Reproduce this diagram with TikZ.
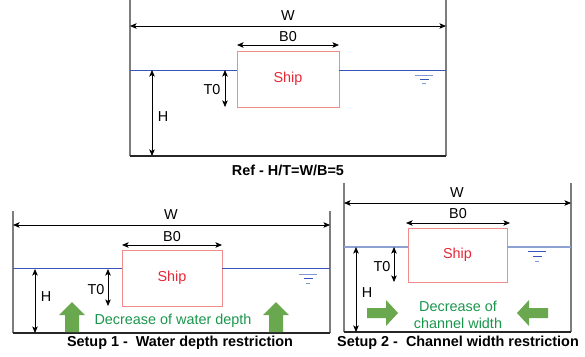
\documentclass[tikz,border=0pt]{standalone}
\usepackage{fontspec}
\setmainfont{Liberation Sans}
\usetikzlibrary{arrows.meta}
\definecolor{wallgray}{RGB}{125,125,125}
\definecolor{waterblue}{RGB}{55,85,185}
\definecolor{waterpale}{RGB}{140,160,210}
\definecolor{waterlight}{RGB}{130,150,210}
\definecolor{shipred}{RGB}{240,140,140}
\definecolor{shiptext}{RGB}{230,40,55}
\definecolor{arrowgreen}{RGB}{106,168,79}
\definecolor{textgreen}{RGB}{25,150,75}
\begin{document}
\begin{tikzpicture}[x=1pt,y=-1pt,
  wall/.style={draw=wallgray, line width=1.3pt},
  floor/.style={draw=black!85, line width=1.1pt},
  water/.style={draw=waterblue, line width=1pt},
  dim/.style={{Stealth[length=6.5pt,width=5.5pt,inset=1.5pt]}-{Stealth[length=6.5pt,width=5.5pt,inset=1.5pt]}, line width=0.7pt},
  shipbox/.style={draw=shipred, line width=0.8pt, inner sep=0pt, text=shiptext, font=\fontsize{14.4}{16}\selectfont},
  lbl/.style={font=\fontsize{14.4}{16}\selectfont, inner sep=0pt},
  captext/.style={font=\bfseries\fontsize{14.4}{16}\selectfont, inner sep=0pt},
  greentxt/.style={text=textgreen, font=\fontsize{14.4}{17}\selectfont, inner sep=0pt, align=center},
  blockarrow/.style={fill=arrowgreen, draw=none}
]
\useasboundingbox (0,0) rectangle (585,356);

% ================= Reference =================
\coordinate (rTL) at (130,0);
\coordinate (rBL) at (130,156);
\coordinate (rTR) at (446,0);
\coordinate (rBR) at (446,156);
\draw[wall] (rTL) -- (rBL);
\draw[wall] (rTR) -- (rBR);
\draw[floor] (rBL) -- (rBR);
\node[shipbox, minimum width=102, minimum height=56] (rship) at (288,79) {Ship};
\coordinate (rWL) at (130,26);
\coordinate (rWR) at (446,26);
\draw[dim] (rWL) -- (rWR);
\node[lbl] (rW) at (288,16) {W};
\coordinate (rBa) at (237,45);
\coordinate (rBb) at (339,45);
\draw[dim] (rBa) -- (rBb);
\node[lbl] (rB) at (288,37) {B0};
\coordinate (rwl) at (130,70);
\coordinate (rwr) at (446,70);
\draw[water] (rwl) -- (rship.west |- rwl);
\draw[water] (rship.east |- rwr) -- (rwr);
\coordinate (rHa) at (152,70);
\coordinate (rHb) at (152,156);
\draw[dim] (rHa) -- (rHb);
\node[lbl] (rH) at (163,117) {H};
\coordinate (rTa) at (225,70);
\coordinate (rTb) at (225,107);
\draw[dim] (rTa) -- (rTb);
\node[lbl] (rT) at (212,90) {T0};
\draw[waterlight, line width=1pt] (415,75) -- (433,75);
\draw[waterblue, line width=1pt] (420,79) -- (429,79);
\draw[waterlight, line width=1pt] (422,83) -- (426,83);
\node[captext] (rcap) at (288,170) {Ref - H/T=W/B=5};

% ================= Setup 1 =================
\coordinate (aTL) at (13,211);
\coordinate (aBL) at (13,333);
\coordinate (aTR) at (330,211);
\coordinate (aBR) at (330,333);
\draw[wall] (aTL) -- (aBL);
\draw[wall] (aTR) -- (aBR);
\draw[floor] (aBL) -- (aBR);
\node[shipbox, minimum width=100, minimum height=56] (aship) at (172,278) {Ship};
\coordinate (aWL) at (13,225);
\coordinate (aWR) at (330,225);
\draw[dim] (aWL) -- (aWR);
\node[lbl] (aW) at (171,215) {W};
\coordinate (aBa) at (122,245);
\coordinate (aBb) at (222,245);
\draw[dim] (aBa) -- (aBb);
\node[lbl] (aB) at (172,237) {B0};
\coordinate (awl) at (13,268.5);
\coordinate (awr) at (330,268.5);
\draw[water] (awl) -- (aship.west |- awl);
\draw[water] (aship.east |- awr) -- (awr);
\coordinate (aHa) at (35,269);
\coordinate (aHb) at (35,333);
\draw[dim] (aHa) -- (aHb);
\node[lbl] (aH) at (46,297) {H};
\coordinate (aTa) at (108,269);
\coordinate (aTb) at (108,306);
\draw[dim] (aTa) -- (aTb);
\node[lbl] (aT) at (96,290) {T0};
\draw[waterlight, line width=1pt] (299,274) -- (317,274);
\draw[waterblue, line width=1pt] (304,278) -- (313,278);
\draw[waterlight, line width=1pt] (306,283) -- (310,283);
\fill[blockarrow] (65,332) -- (65,315) -- (59,315) -- (72,302) -- (85,315) -- (79,315) -- (79,332) -- cycle;
\fill[blockarrow] (269,332) -- (269,315) -- (263,315) -- (276,302) -- (289,315) -- (283,315) -- (283,332) -- cycle;
\node[greentxt] (atxt) at (173,321) {Decrease of water depth};
\node[captext] (acap) at (180,343) {Setup 1 -\ \ Water depth restriction};

% ================= Setup 2 =================
\coordinate (bTL) at (344,183);
\coordinate (bBL) at (344,332);
\coordinate (bTR) at (571,183);
\coordinate (bBR) at (571,332);
\draw[wall] (bTL) -- (bBL);
\draw[wall] (bTR) -- (bBR);
\draw[floor] (bBL) -- (bBR);
\node[shipbox, minimum width=99, minimum height=54] (bship) at (457.5,255) {Ship};
\coordinate (bWL) at (344,203);
\coordinate (bWR) at (571,203);
\draw[dim] (bWL) -- (bWR);
\node[lbl] (bW) at (457,193) {W};
\coordinate (bBa) at (406,223);
\coordinate (bBb) at (510,223);
\draw[dim] (bBa) -- (bBb);
\node[lbl] (bB) at (458,214) {B0};
\coordinate (bwl) at (344,247);
\coordinate (bwr) at (571,247);
\draw[water, draw=waterpale, line width=1.1pt] (bwl) -- (bship.west |- bwl);
\draw[water, draw=waterpale, line width=1.1pt] (bship.east |- bwr) -- (bwr);
\coordinate (bHa) at (356,247);
\coordinate (bHb) at (356,332);
\draw[dim] (bHa) -- (bHb);
\node[lbl] (bH) at (367,293) {H};
\coordinate (bTa) at (394,247);
\coordinate (bTb) at (394,282);
\draw[dim] (bTa) -- (bTb);
\node[lbl] (bT) at (382,267) {T0};
\draw[waterblue, line width=1pt] (528,251) -- (546,251);
\draw[waterblue, line width=1pt] (533,256) -- (542,256);
\draw[waterlight, line width=1pt] (535,261) -- (539,261);
\fill[blockarrow] (367,308) -- (386,308) -- (386,300) -- (398,313) -- (386,326) -- (386,318) -- (367,318) -- cycle;
\fill[blockarrow] (548,308) -- (529,308) -- (529,300) -- (517,313) -- (529,326) -- (529,318) -- (548,318) -- cycle;
\node[greentxt] (btxt) at (458,315) {Decrease of\\channel width};
\node[captext] (bcap) at (458,343) {Setup 2 -\ \ Channel width restriction};
\end{tikzpicture}
\end{document}
